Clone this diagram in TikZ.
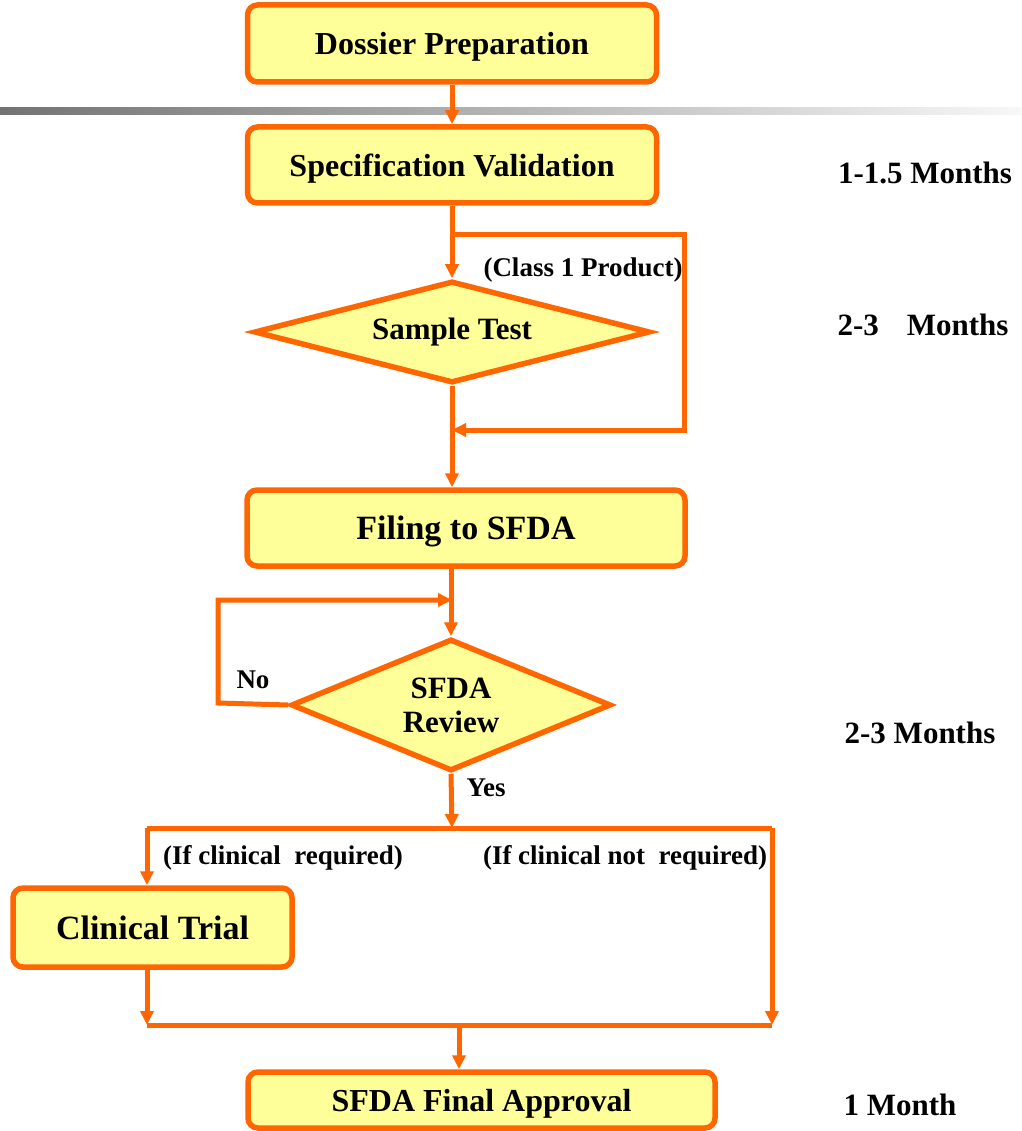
\documentclass[tikz,border=0pt]{standalone}
\usepackage{fontspec}
\setmainfont{Liberation Serif}
\usetikzlibrary{shapes.geometric,arrows.meta}
\definecolor{orng}{HTML}{FF6600}
\definecolor{lyel}{HTML}{FFFF99}
\begin{document}
\begin{tikzpicture}[x=1pt,y=-1pt,
  box/.style={draw=orng,line width=5.5pt,fill=lyel,rounded corners=10pt,inner sep=0pt,
    text depth=0pt,font=\fontsize{32}{36}\selectfont\bfseries,align=center},
  dia/.style={diamond,draw=orng,line width=5.5pt,fill=lyel,inner sep=0pt,
    font=\fontsize{31}{36}\selectfont\bfseries,align=center},
  conn/.style={draw=orng,line width=5pt},
  arr/.style={conn,-{Triangle[length=14pt,width=13pt]}},
  lbl/.style={font=\fontsize{27}{30}\selectfont\bfseries,inner sep=0pt},
  side/.style={font=\fontsize{31}{36}\selectfont\bfseries,inner sep=0pt}]
\useasboundingbox (0,0) rectangle (1021,1131);
\shade[left color=black!55,right color=black!3] (0,108) rectangle (1021,115);

\node[box,minimum width=409pt,minimum height=77pt] (box1) at (452,43.5) {Dossier Preparation};
\node[box,minimum width=409pt,minimum height=76pt] (box2) at (452,165) {Specification Validation};
\node[dia,aspect=3.9,minimum width=396pt,minimum height=102pt] (d1) at (452,332) {Sample Test};
\node[box,minimum width=438pt,minimum height=76pt,font=\fontsize{34}{38}\selectfont\bfseries] (box3) at (466,528) {Filing to SFDA};
\node[dia,aspect=2.43,minimum width=320pt,minimum height=132pt] (d2) at (451,705) {SFDA\\[-2pt]Review};
\node[box,minimum width=279pt,minimum height=79pt,font=\fontsize{34}{38}\selectfont\bfseries] (box4) at (152.5,927.5) {Clinical Trial};
\node[box,minimum width=467pt,minimum height=56pt] (box5) at (481.5,1100) {SFDA Final Approval};

\coordinate (b1) at (452,235);
\coordinate (b2) at (684,235);
\coordinate (b3) at (684,430);
\coordinate (b4) at (452,430);
\coordinate (l1) at (218,703);
\coordinate (l2) at (218,600);
\coordinate (l3) at (452,600);
\coordinate (y1) at (452,828);
\coordinate (cL) at (147,828);
\coordinate (cR) at (772,828);
\coordinate (jL) at (147,1025);
\coordinate (jR) at (772,1025);
\coordinate (jM) at (459,1025);

\draw[arr] (box1.south) -- (box2.north);
\draw[arr] (box2.south) -- (d1.north);
\draw[arr] (b1) -- (b2) -- (b3) -- (b4);
\draw[arr] (d1.south) -- (d1.south |- box3.north);
\draw[arr] (d2.north |- box3.south) -- (d2.north);
\draw[arr] (d2.west) -- (l1) -- (l2) -- (l3);
\draw[arr] (d2.south) -- (y1);
\draw[conn] (cL) -- (cR);
\draw[arr] (cL) -- (cL |- box4.north);
\draw[arr] (cR) -- (jR);
\draw[arr] (cL |- box4.south) -- (jL);
\draw[conn] (jL) -- (jR);
\draw[arr] (jM) -- (jM |- box5.north);

\node[lbl] (t1) at (583,270) {(Class 1 Product)};
\node[lbl] (t2) at (253,680) {No};
\node[lbl] (t3) at (486,788) {Yes};
\node[lbl] (t4) at (283,858) {(If clinical\ \ required)};
\node[lbl] (t5) at (625,858) {(If clinical not\ \ required)};

\node[side] (s1) at (925,173) {1-1.5 Months};
\node[side] (s2) at (923,325) {2-3\hspace{28pt}Months};
\node[side] (s3) at (920,733) {2-3 Months};
\node[side] (s4) at (900,1105) {1 Month};
\end{tikzpicture}
\end{document}
